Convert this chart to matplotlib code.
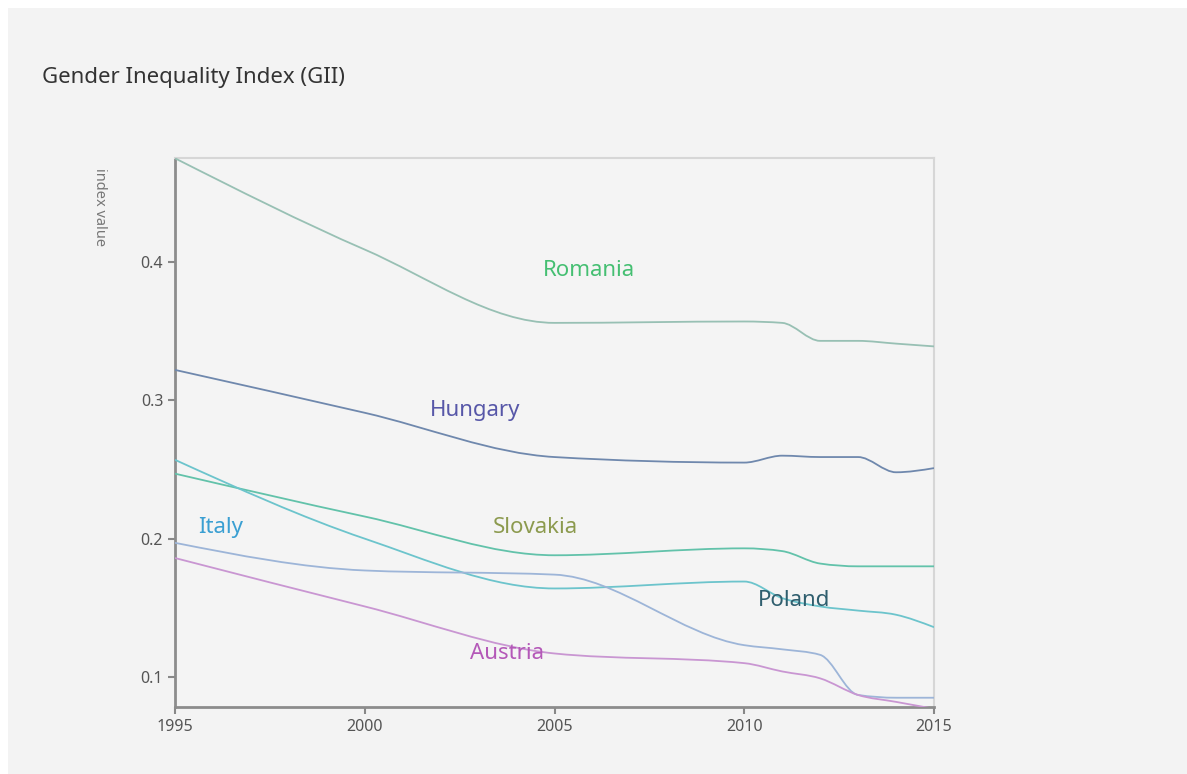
import numpy as np
import matplotlib.pyplot as plt
from matplotlib.path import Path
from matplotlib.patches import PathPatch, Rectangle

# data
years = [1995, 2000, 2005, 2010, 2011, 2012, 2013, 2014, 2015]
romania = [0.475, 0.409, 0.356, 0.357, 0.356, 0.343, 0.343, 0.341, 0.339]
hungary = [0.322, 0.291, 0.259, 0.255, 0.260, 0.259, 0.259, 0.248, 0.251]
slovakia = [0.247, 0.216, 0.188, 0.193, 0.191, 0.182, 0.180, 0.180, 0.180]
poland = [0.257, 0.200, 0.164, 0.169, 0.157, 0.151, 0.148, 0.145, 0.136]
italy = [0.197, 0.177, 0.174, 0.123, 0.120, 0.116, 0.087, 0.085, 0.085]
austria = [0.186, 0.151, 0.117, 0.110, 0.104, 0.099, 0.087, 0.082, 0.077]

series = [
    ('Romania', romania, '#98c0b4', '#45bf72', (2005.9, 0.394)),
    ('Hungary', hungary, '#6f88ad', '#5757a8', (2002.9, 0.293)),
    ('Slovakia', slovakia, '#62c2aa', '#8c9a4e', (2004.5, 0.208)),
    ('Poland', poland, '#6cc4cc', '#2f5e6e', (2011.3, 0.155)),
    ('Italy', italy, '#9db5d8', '#3a9fd2', (1996.2, 0.208)),
    ('Austria', austria, '#c996d2', '#b458b8', (2003.75, 0.117)),
]


def monotone_path(x, y):
    """Monotone cubic curve (like d3.curveMonotoneX) as a bezier Path."""
    x = np.asarray(x, float)
    y = np.asarray(y, float)
    h = np.diff(x)
    s = np.diff(y) / h
    n = len(x)
    t = np.zeros(n)
    for i in range(1, n - 1):
        p = (s[i-1] * h[i] + s[i] * h[i-1]) / (h[i-1] + h[i])
        t[i] = (np.sign(s[i-1]) + np.sign(s[i])) * min(abs(s[i-1]), abs(s[i]), 0.5 * abs(p))
    t[0] = (3 * s[0] - t[1]) / 2
    t[-1] = (3 * s[-1] - t[-2]) / 2
    verts = [(x[0], y[0])]
    codes = [Path.MOVETO]
    for i in range(n - 1):
        d = h[i] / 3
        verts += [(x[i] + d, y[i] + t[i] * d), (x[i+1] - d, y[i+1] - t[i+1] * d), (x[i+1], y[i+1])]
        codes += [Path.CURVE4] * 3
    return Path(verts, codes)


plt.rcParams['font.family'] = ['Noto Sans', 'DejaVu Sans']

fig = plt.figure(figsize=(11.87, 7.74), dpi=100, facecolor='white')
fig.patches.append(Rectangle((8 / 1187, 0), 1 - 8 / 1187, 1 - 8 / 774,
                             transform=fig.transFigure, facecolor='#f3f3f3',
                             edgecolor='none', zorder=-10))
ax = fig.add_axes([175 / 1187, 1 - 707 / 774, (934 - 175) / 1187, (707 - 158) / 774])
ax.set_facecolor('#f4f4f4')

for name, vals, lc, tc, pos in series:
    ax.add_patch(PathPatch(monotone_path(years, vals), facecolor='none',
                           edgecolor=lc, lw=1.3, zorder=3))
    ax.text(pos[0], pos[1], name, color=tc, fontsize=16, ha='center', va='center', zorder=4)

ax.set_xlim(1995, 2015)
ax.set_ylim(0.0783, 0.4752)
ax.set_xticks([1995, 2000, 2005, 2010, 2015])
ax.set_yticks([0.1, 0.2, 0.3, 0.4])
ax.set_yticklabels(['0.1', '0.2', '0.3', '0.4'])
ax.tick_params(colors='#888888', labelcolor='#555555', labelsize=11.5, length=5, width=1.5)

for side in ['left', 'bottom']:
    ax.spines[side].set_color('#8c8c8c')
    ax.spines[side].set_linewidth(2)
for side in ['top', 'right']:
    ax.spines[side].set_color('#d6d6d6')
    ax.spines[side].set_linewidth(1.5)

fig.text(42 / 1187, 1 - 77 / 774, 'Gender Inequality Index (GII)', fontsize=16,
         color='#333333', ha='left', va='center')
fig.text(100 / 1187, 1 - 207 / 774, 'index value', fontsize=10.5, color='#777777',
         rotation=-90, ha='center', va='center')

fig.savefig('out.png', dpi=100, facecolor=fig.get_facecolor())
